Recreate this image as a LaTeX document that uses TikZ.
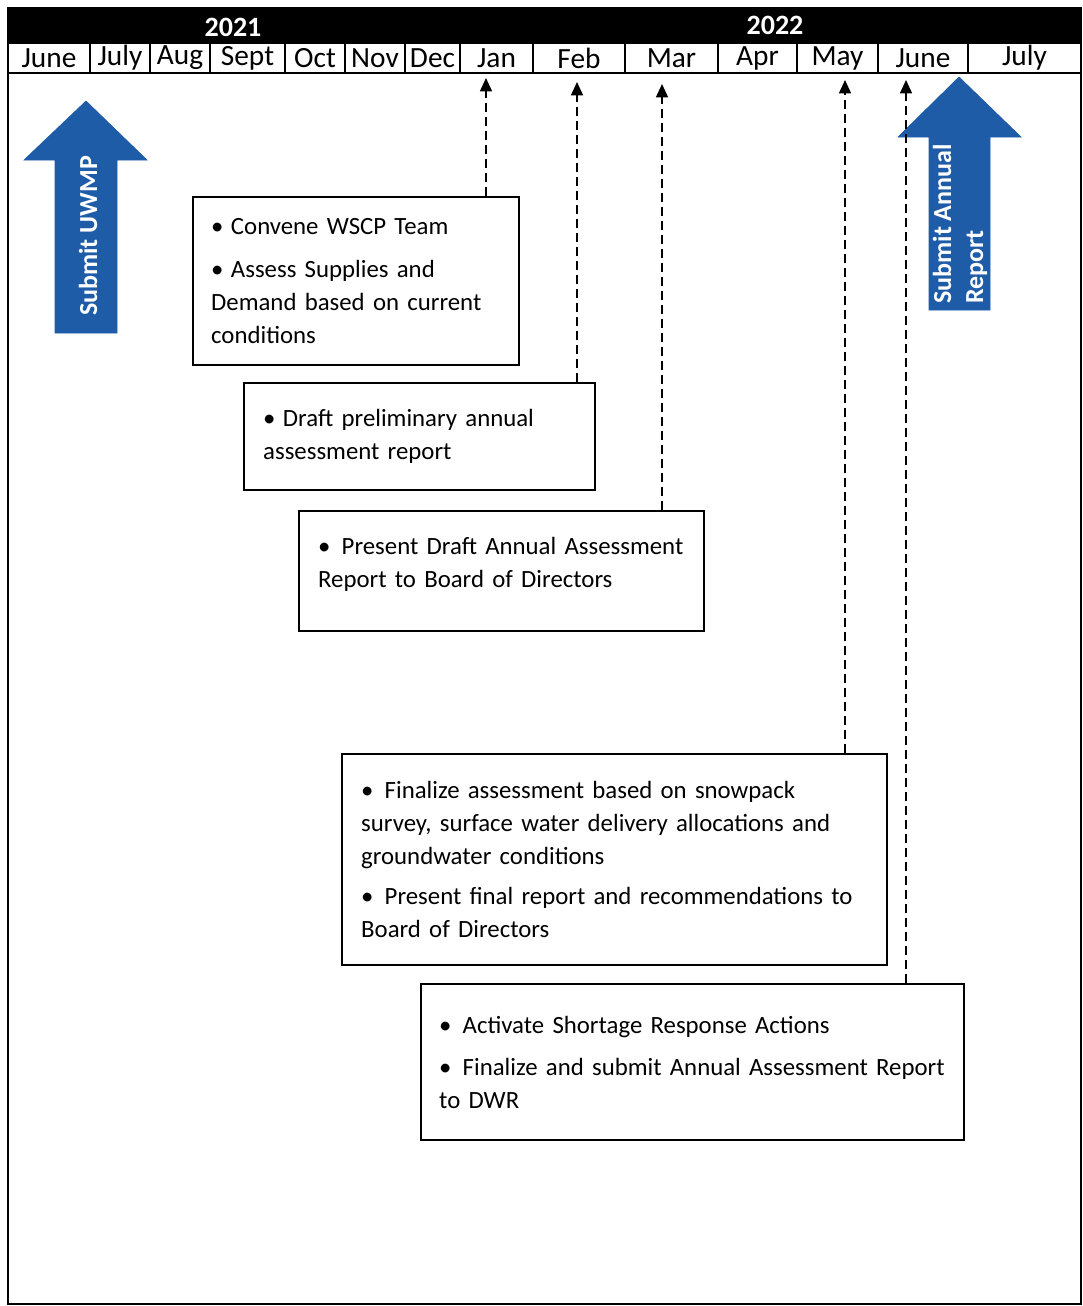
\documentclass[tikz,border=0pt]{standalone}
\usepackage{fontspec}
\setmainfont{Carlito}
\usetikzlibrary{arrows.meta}
\definecolor{arrowblue}{RGB}{31,92,168}
\begin{document}
\begin{tikzpicture}[x=0.75pt,y=-0.75pt,
  month/.style={font=\fontsize{22}{24}\selectfont, inner sep=0pt},
  year/.style={font=\bfseries\fontsize{21}{24}\selectfont, text=white, inner sep=0pt},
  taskbox/.style={draw, line width=1.8pt, anchor=north west, align=left, inner ysep=0pt,
     font=\fontsize{18.6}{24.75}\selectfont},
  link/.style={dash pattern=on 7pt off 3.5pt, line width=1.1pt, -{Triangle[length=10pt,width=9pt]}},
  bigarrow/.style={fill=arrowblue, draw=arrowblue, line width=0.5pt},
  arrowtext/.style={text=white, font=\bfseries\fontsize{19.5}{24}\selectfont, rotate=90, inner sep=0pt}
]
\useasboundingbox (0,0) rectangle (1082,1306);
% outer frame
\draw[line width=1.2pt] (8,8) rectangle (1081,1304);
% header band
\fill[black] (8,8) rectangle (1081,43);
\node[year] (y2021) at (233,27) {2021};
\node[year] (y2022) at (775,25) {2022};
% month row
\draw[line width=1.2pt, fill=white] (8,43) rectangle (1081,73);
\foreach \a/\b/\t/\n in {8/90/June/m1, 90/150/July/m2, 150/210/Aug/m3, 210/285/Sept/m4,
  285/345/Oct/m5, 345/405/Nov/m6, 405/460/Dec/m7, 460/533/Jan/m8, 533/625/Feb/m9,
  625/718/Mar/m10, 718/797/Apr/m11, 797/878/May/m12, 878/968/June/m13, 968/1081/July/m14}{
  \draw[line width=1pt] (\b,43) -- (\b,73);
  \node[month] (\n) at ({(\a+\b)/2},58) {\t};
}
% blue arrows
\fill[bigarrow] (55,333) -- (55,160) -- (24,160) -- (86,101) -- (147,160) -- (117,160) -- (117,333) -- cycle;
\node[arrowtext] (uwmp) at (88,236) {Submit UWMP};
\fill[bigarrow] (929,310) -- (929,137) -- (898,137) -- (959,77) -- (1021,137) -- (990,137) -- (990,310) -- cycle;
\node[arrowtext, align=left, anchor=west] (annual) at (960,304) {Submit Annual\\Report};
% task boxes
\node[taskbox, text width=217.5pt, inner xsep=13.5pt, minimum height=126pt] (b1) at (192,196)
  {\mbox{•\hspace{0.3em}Convene WSCP Team}\\[7pt]
   \mbox{•\hspace{0.3em}Assess Supplies and}\\
   \mbox{Demand based on current}\\
   \mbox{conditions}};
\node[taskbox, text width=234.75pt, inner xsep=14.25pt, minimum height=80.25pt] (b2) at (243,382)
  {\mbox{•\hspace{0.3em}Draft preliminary annual}\\
   \mbox{assessment report}};
\node[taskbox, text width=275.25pt, inner xsep=14.25pt, minimum height=90pt] (b3) at (298,510)
  {\mbox{•\hspace{0.45em}Present Draft Annual Assessment}\\
   \mbox{Report to Board of Directors}\\[-12pt]\mbox{}};
\node[taskbox, text width=380.25pt, inner xsep=14.25pt, minimum height=158.25pt] (b4) at (341,753)
  {\mbox{•\hspace{0.45em}Finalize assessment based on snowpack}\\
   \mbox{survey, surface water delivery allocations and}\\
   \mbox{groundwater conditions}\\[5pt]
   \mbox{•\hspace{0.45em}Present final report and recommendations to}\\
   \mbox{Board of Directors}};
\node[taskbox, text width=380.25pt, inner xsep=13.5pt, minimum height=117pt] (b5) at (420,983)
  {\mbox{•\hspace{0.45em}Activate Shortage Response Actions}\\[7pt]
   \mbox{•\hspace{0.45em}Finalize and submit Annual Assessment Report}\\
   \mbox{to DWR}};
% dashed connectors
\coordinate (tJan) at (486,78);
\coordinate (tFeb) at (577,82);
\coordinate (tMar) at (662,84);
\coordinate (tMay) at (845,80);
\coordinate (tJun) at (906,80);
\draw[link] (b1.north -| tJan) -- (tJan);
\draw[link] (b2.north -| tFeb) -- (tFeb);
\draw[link] (b3.north -| tMar) -- (tMar);
\draw[link] (b4.north -| tMay) -- (tMay);
\draw[link] (b5.north -| tJun) -- (tJun);
\end{tikzpicture}
\end{document}
